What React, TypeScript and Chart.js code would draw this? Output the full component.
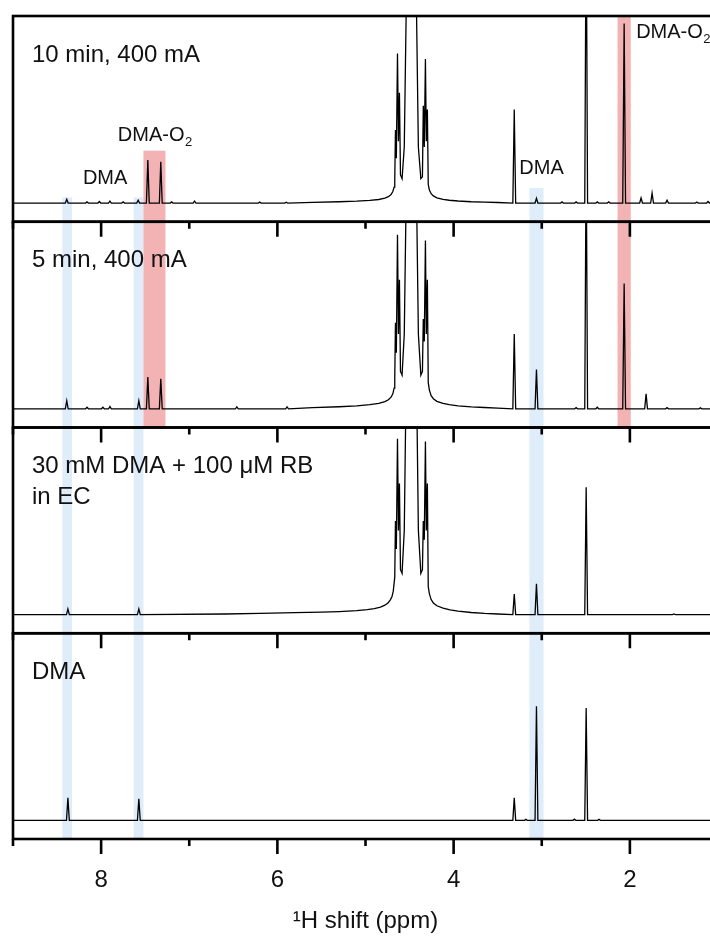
import { useEffect, useRef } from 'react';
import { Chart, registerables } from 'chart.js';

Chart.register(...registerables);

// Chemical shift axis (ppm), drawn high → low
const PPM_MAX = 9;
const PPM_MIN = 1;
const X_TICKS = [9, 8, 7, 6, 5, 4, 3, 2, 1];
const X_LABELED = [8, 6, 4, 2];

// Panel captions, top to bottom
const PANEL_LABELS = [
  ['10 min, 400 mA'],
  ['5 min, 400 mA'],
  ['30 mM DMA + 100 μM RB', 'in EC'],
  ['DMA'],
];

// Sharp resonances per spectrum: [ppm, intensity]
const SPIKES_10MIN = [
  [8.39, 0.02], [8.16, 0.006], [8.02, 0.008], [7.9, 0.01], [7.75, 0.006], [7.58, 0.015],
  [7.47, 0.23], [7.323, 0.22], [7.2, 0.006], [6.94, 0.01], [6.2, 0.005], [5.9, 0.004],
  [3.312, 0.5], [3.06, 0.025], [2.77, 0.006], [2.61, 0.006], [2.496, 1.6], [2.37, 0.006],
  [2.24, 0.006], [2.065, 0.96], [1.873, 0.027], [1.748, 0.053], [1.578, 0.015],
  [1.24, 0.005], [1.113, 0.008],
];
const SPIKES_5MIN = [
  [8.39, 0.043], [8.16, 0.008], [7.98, 0.008], [7.9, 0.012], [7.572, 0.043],
  [7.47, 0.17], [7.323, 0.16], [6.46, 0.01], [5.89, 0.01],
  [3.312, 0.4], [3.06, 0.21], [2.61, 0.006], [2.496, 1.4], [2.37, 0.008],
  [2.065, 0.67], [1.816, 0.08], [1.578, 0.006], [1.2, 0.005],
];
const SPIKES_RB = [
  [8.377, 0.03], [7.572, 0.03], [3.312, 0.11], [3.06, 0.165], [2.496, 0.68], [1.5, 0.003],
];
const SPIKES_DMA = [
  [8.377, 0.12], [7.572, 0.115], [3.312, 0.12], [3.18, 0.005], [3.06, 0.61],
  [2.63, 0.006], [2.496, 0.6], [2.35, 0.005],
];

// Broad solvent envelope with its multiplets: [ppm, intensity]
const WATER_10MIN = [
  [5.6, 0.004], [5.3, 0.007], [5.1, 0.01], [4.95, 0.014], [4.85, 0.019], [4.78, 0.026],
  [4.74, 0.034], [4.71, 0.045], [4.69, 0.062], [4.675, 0.085],
  [4.668, 0.12], [4.66, 0.39], [4.65, 0.24], [4.637, 0.8], [4.626, 0.33], [4.615, 0.59], [4.603, 0.15],
  [4.585, 0.13], [4.56, 0.3], [4.479, 3.0], [4.4, 0.3], [4.372, 0.13], [4.354, 0.14],
  [4.344, 0.52], [4.333, 0.3], [4.32, 0.77], [4.31, 0.33], [4.298, 0.5], [4.288, 0.1],
  [4.275, 0.07], [4.255, 0.05], [4.23, 0.038], [4.19, 0.028], [4.12, 0.02], [4.05, 0.015],
  [3.95, 0.011], [3.8, 0.007], [3.65, 0.005], [3.5, 0.003],
];
const WATER_5MIN = [
  [5.6, 0.006], [5.3, 0.011], [5.1, 0.016], [4.95, 0.022], [4.85, 0.029], [4.78, 0.038],
  [4.74, 0.048], [4.71, 0.062], [4.69, 0.08], [4.675, 0.11],
  [4.668, 0.16], [4.66, 0.46], [4.65, 0.3], [4.637, 0.93], [4.626, 0.4], [4.615, 0.69], [4.603, 0.2],
  [4.585, 0.18], [4.56, 0.4], [4.479, 3.2], [4.4, 0.4], [4.372, 0.18], [4.354, 0.2],
  [4.344, 0.48], [4.333, 0.36], [4.32, 0.9], [4.31, 0.4], [4.298, 0.69], [4.288, 0.14],
  [4.275, 0.1], [4.255, 0.07], [4.23, 0.054], [4.19, 0.04], [4.12, 0.029], [4.05, 0.022],
  [3.95, 0.016], [3.8, 0.01], [3.65, 0.007], [3.5, 0.004],
];
const WATER_RB = [
  [6.6, 0.003], [6.2, 0.006], [5.8, 0.01], [5.5, 0.013], [5.3, 0.016], [5.1, 0.021], [4.98, 0.026],
  [4.9, 0.032], [4.83, 0.04], [4.78, 0.05], [4.745, 0.062], [4.72, 0.077], [4.7, 0.095], [4.685, 0.125],
  [4.668, 0.2], [4.66, 0.5], [4.65, 0.35], [4.637, 0.94], [4.626, 0.45], [4.615, 0.7], [4.603, 0.24],
  [4.585, 0.22], [4.56, 0.45], [4.479, 3.5], [4.4, 0.45], [4.372, 0.22], [4.354, 0.24],
  [4.344, 0.5], [4.333, 0.4], [4.32, 0.925], [4.31, 0.45], [4.298, 0.7], [4.288, 0.15],
  [4.275, 0.11], [4.255, 0.08], [4.23, 0.062], [4.19, 0.047], [4.12, 0.034], [4.04, 0.025],
  [3.95, 0.018], [3.8, 0.011], [3.65, 0.006], [3.5, 0.003],
];
const WATER_DMA: number[][] = [];

const SPECTRA = [
  { spikes: SPIKES_10MIN, envelope: WATER_10MIN },
  { spikes: SPIKES_5MIN, envelope: WATER_5MIN },
  { spikes: SPIKES_RB, envelope: WATER_RB },
  { spikes: SPIKES_DMA, envelope: WATER_DMA },
];

// Highlighted shift windows: [ppm from, ppm to, first panel, start intensity in that panel, last panel]
const BLUE_BANDS = [
  [8.44, 8.33, 0, 0.03, 3],
  [7.63, 7.52, 0, 0.03, 3],
  [3.14, 2.98, 0, 0.08, 3],
];
const RED_BANDS = [
  [7.52, 7.27, 0, 0.28, 1],
  [2.14, 1.99, 0, 1.0, 1],
];

// Peak annotations in the top spectrum: [ppm of text start, intensity, text, subscript]
const ANNOTATIONS: [number, number, string, string][] = [
  [8.207, 0.13, 'DMA', ''],
  [7.81, 0.36, 'DMA-O', '2'],
  [3.255, 0.185, 'DMA', ''],
  [1.929, 0.91, 'DMA-O', '2'],
];

const X_TITLE = '\u00B9H shift (ppm)';

const FONT = '"Liberation Sans", Arial, sans-serif';
const BLUE = '#dfecfa';
const RED = '#f3b3b5';
const SPIKE_HALF_WIDTH = 0.016;
const CANVAS_W = 730;
const CANVAS_H = 940;

function buildTrace(spikes: number[][], envelope: number[][]) {
  const pts: { x: number; y: number }[] = [
    { x: PPM_MAX, y: 0 },
    { x: PPM_MIN, y: 0 },
  ];
  for (const [p, h] of spikes) {
    pts.push({ x: p + SPIKE_HALF_WIDTH, y: 0 }, { x: p, y: h }, { x: p - SPIKE_HALF_WIDTH, y: 0 });
  }
  for (const [p, h] of envelope) pts.push({ x: p, y: h });
  pts.sort((a, b) => b.x - a.x);
  return pts;
}

const bandsPlugin = {
  id: 'shiftBands',
  beforeDatasetsDraw(chart: any) {
    const { ctx, scales } = chart;
    const x = scales.x;
    const draw = (bands: number[][], color: string) => {
      ctx.fillStyle = color;
      for (const [a, b, p0, v0, p1] of bands) {
        const xa = x.getPixelForValue(a);
        const xb = x.getPixelForValue(b);
        const top = scales['y' + p0].getPixelForValue(v0);
        const bottom = scales['y' + p1].bottom;
        ctx.fillRect(Math.min(xa, xb), top, Math.abs(xb - xa), bottom - top);
      }
    };
    ctx.save();
    draw(BLUE_BANDS, BLUE);
    draw(RED_BANDS, RED);
    ctx.restore();
  },
};

const framePlugin = {
  id: 'panelFrames',
  afterDraw(chart: any) {
    const { ctx, scales } = chart;
    const x = scales.x;
    ctx.save();
    ctx.strokeStyle = '#000';
    ctx.lineWidth = 2.6;
    for (let i = 0; i < 4; i++) {
      const y = scales['y' + i];
      ctx.strokeRect(x.left, y.top, x.right - x.left, y.bottom - y.top);
    }
    for (let i = 0; i < 4; i++) {
      const y = scales['y' + i];
      for (const t of X_TICKS) {
        const px = x.getPixelForValue(t);
        const len = X_LABELED.includes(t) ? 15 : 7;
        ctx.beginPath();
        ctx.moveTo(px, y.bottom);
        ctx.lineTo(px, y.bottom + len);
        ctx.stroke();
      }
    }

    ctx.fillStyle = '#111';
    ctx.textBaseline = 'middle';
    ctx.textAlign = 'left';
    ctx.font = `24px ${FONT}`;
    PANEL_LABELS.forEach((lines, i) => {
      const y = scales['y' + i];
      lines.forEach((line, j) => {
        ctx.fillText(line, x.left + 19, y.top + 39 + j * 31);
      });
    });

    const y0 = scales.y0;
    for (const [ppm, v, text, sub] of ANNOTATIONS) {
      const px = x.getPixelForValue(ppm);
      const py = y0.getPixelForValue(v);
      ctx.font = `20px ${FONT}`;
      ctx.fillText(text, px, py);
      if (sub) {
        const w = ctx.measureText(text).width;
        ctx.font = `13px ${FONT}`;
        ctx.fillText(sub, px + w + 0.5, py + 7);
      }
    }
    ctx.restore();
  },
};

export default function App() {
  const canvasRef = useRef<HTMLCanvasElement | null>(null);

  useEffect(() => {
    const canvas = canvasRef.current;
    if (!canvas) return;

    const panelAxis = (i: number) => ({
      type: 'linear',
      min: -0.1,
      max: 1,
      position: 'left',
      stack: 'spectra',
      stackWeight: 1,
      weight: 4 - i,
      display: false,
    });

    const chart = new Chart(canvas, {
      type: 'line',
      data: {
        datasets: SPECTRA.map((s, i) => ({
          data: buildTrace(s.spikes, s.envelope),
          yAxisID: 'y' + i,
          borderColor: '#000',
          borderWidth: 1.3,
          pointRadius: 0,
          tension: 0,
          fill: false,
        })),
      },
      options: {
        animation: false,
        responsive: false,
        events: [],
        layout: { padding: { left: 13, top: 16, right: CANVAS_W - 719, bottom: 0 } },
        plugins: {
          legend: { display: false },
          tooltip: { enabled: false },
        },
        scales: {
          x: {
            type: 'linear',
            reverse: true,
            min: PPM_MIN,
            max: PPM_MAX,
            position: 'bottom',
            border: { display: false },
            grid: {
              display: true,
              drawOnChartArea: false,
              drawTicks: true,
              tickLength: 15,
              color: 'rgba(0,0,0,0)',
            },
            ticks: {
              stepSize: 1,
              autoSkip: false,
              maxRotation: 0,
              padding: 12,
              color: '#111',
              font: { family: FONT, size: 24 },
              callback: (v: any) => (X_LABELED.includes(Number(v)) ? String(v) : ''),
            },
            title: {
              display: true,
              text: X_TITLE,
              color: '#111',
              font: { family: FONT, size: 24 },
              padding: { top: 0, bottom: 4 },
            },
            afterFit: (s: any) => {
              s.height = CANVAS_H - 839;
            },
          },
          y0: panelAxis(0),
          y1: panelAxis(1),
          y2: panelAxis(2),
          y3: panelAxis(3),
        } as any,
      },
      plugins: [bandsPlugin, framePlugin],
    } as any);

    return () => chart.destroy();
  }, []);

  return (
    <div
      style={{
        position: 'fixed',
        left: 0,
        top: 0,
        width: 710,
        height: 940,
        overflow: 'hidden',
        background: '#fff',
      }}
    >
      <canvas
        ref={canvasRef}
        width={CANVAS_W}
        height={CANVAS_H}
        style={{ display: 'block', width: CANVAS_W, height: CANVAS_H }}
      />
    </div>
  );
}
